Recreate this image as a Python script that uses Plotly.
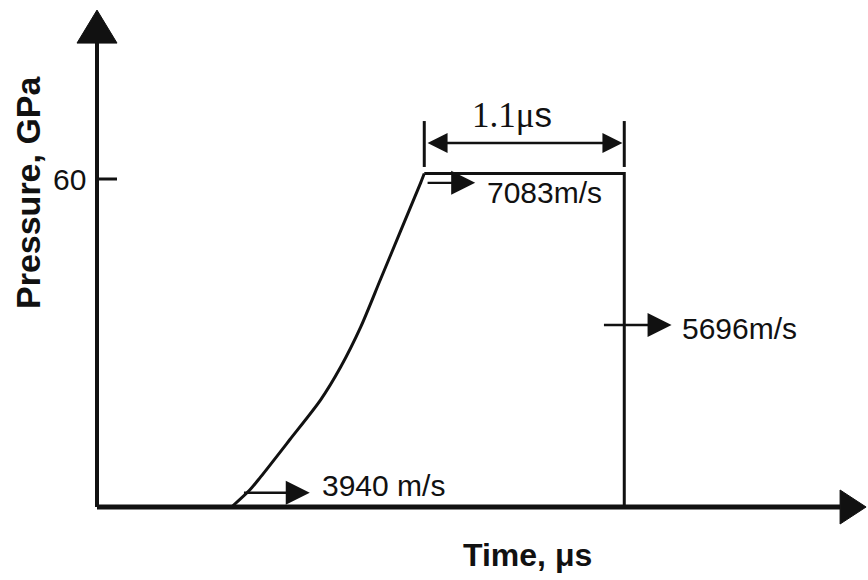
import plotly.graph_objects as go

# Pressure pulse: time (μs) vs pressure (GPa)
time_us = [0.74, 0.84, 0.90, 1.06, 1.23, 1.34, 1.45, 1.56, 1.67, 1.78, 1.80, 2.90, 2.90]
pressure_gpa = [0.0, 3.1, 5.5, 12.3, 19.6, 25.6, 32.9, 41.7, 50.5, 59.3, 61.0, 61.0, 0.0]
RISE_END = 11  # points in the ramp (up to the start of the plateau)

y_ticks = [60]
plateau_start, plateau_end = 1.80, 2.90
plateau_value = "1.1"
plateau_unit = "μs"

# wave speed labels with their arrows (tail t, head t, pressure level)
speed_labels = ["3940 m/s", "7083m/s", "5696m/s"]
speed_arrow_t0 = [0.80, 1.81, 2.78]
speed_arrow_t1 = [1.17, 2.08, 3.16]
speed_arrow_p = [2.6, 59.3, 33.3]
speed_label_t = [1.227, 2.134, 3.207]
speed_label_p = [4.0, 57.6, 32.7]

INK = "#111111"
SANS = "Liberation Sans, Arial, sans-serif"
SERIF = "Liberation Serif, Times New Roman, serif"

# scale of the drawing
PX_PER_US = 200 / 1.1
PX_PER_GPA = 328 / 60
W, H = 868, 580
ORIGIN_X, ORIGIN_Y = 97, 507
X_RANGE = [-ORIGIN_X / PX_PER_US, (W - ORIGIN_X) / PX_PER_US]
Y_RANGE = [-(H - ORIGIN_Y) / PX_PER_GPA, ORIGIN_Y / PX_PER_GPA]

T_AXIS_END = 4.23
P_AXIS_END = 90.9
HEAD_T = 26 / PX_PER_US
HEAD_P = 33 / PX_PER_GPA

fig = go.Figure()

# smooth ramp
fig.add_trace(go.Scatter(
    x=time_us[:RISE_END], y=pressure_gpa[:RISE_END], mode="lines",
    line=dict(color=INK, width=3, shape="spline", smoothing=0.8),
    hoverinfo="skip", showlegend=False,
))
# flat top and release
fig.add_trace(go.Scatter(
    x=time_us[RISE_END - 1:], y=pressure_gpa[RISE_END - 1:], mode="lines",
    line=dict(color=INK, width=3), hoverinfo="skip", showlegend=False,
))

shapes = []
# time axis with arrowhead
shapes.append(dict(type="line", xref="x", yref="y", x0=0, y0=0, x1=T_AXIS_END - HEAD_T, y1=0,
                   line=dict(color=INK, width=5)))
hw = 17 / PX_PER_GPA
shapes.append(dict(type="path", xref="x", yref="y",
                   path=f"M {T_AXIS_END - HEAD_T},{hw} L {T_AXIS_END},0 L {T_AXIS_END - HEAD_T},{-hw} Z",
                   fillcolor=INK, line=dict(color=INK, width=1)))
# pressure axis with arrowhead
shapes.append(dict(type="line", xref="x", yref="y", x0=0, y0=0, x1=0, y1=P_AXIS_END - HEAD_P,
                   line=dict(color=INK, width=4)))
hx = 20 / PX_PER_US
shapes.append(dict(type="path", xref="x", yref="y",
                   path=f"M {-hx},{P_AXIS_END - HEAD_P} L 0,{P_AXIS_END} L {hx},{P_AXIS_END - HEAD_P} Z",
                   fillcolor=INK, line=dict(color=INK, width=1)))
# tick marks
for v in y_ticks:
    shapes.append(dict(type="line", xref="x", yref="y", x0=0, y0=v, x1=0.11, y1=v,
                       line=dict(color=INK, width=3)))
# plateau width dimension lines
for t in (plateau_start, plateau_end):
    shapes.append(dict(type="line", xref="x", yref="y", x0=t, y0=62.2, x1=t, y1=70.6,
                       line=dict(color=INK, width=3)))

annotations = []
# plateau dimension double arrow
annotations.append(dict(
    x=plateau_end - 0.01, y=66.6, ax=plateau_start + 0.01, ay=66.6,
    xref="x", yref="y", axref="x", ayref="y", text="", showarrow=True,
    arrowhead=2, startarrowhead=2, arrowside="end+start", arrowsize=1.6, startarrowsize=1.6,
    arrowwidth=2.5, arrowcolor=INK,
))
annotations.append(dict(
    x=(plateau_start + plateau_end) / 2 - 0.07, y=67.6, xref="x", yref="y",
    text=f"<span style='font-family:{SERIF}'>{plateau_value}{plateau_unit[0]}</span>{plateau_unit[1:]}",
    showarrow=False, xanchor="center", yanchor="bottom",
    font=dict(family=SANS, size=35, color=INK),
))

# wave speed arrows and labels
for t0, t1, p in zip(speed_arrow_t0, speed_arrow_t1, speed_arrow_p):
    annotations.append(dict(
        x=t1, y=p, ax=t0, ay=p, xref="x", yref="y", axref="x", ayref="y",
        text="", showarrow=True, arrowhead=2, arrowsize=2.0, arrowwidth=2.4, arrowcolor=INK,
    ))
for lab, tx, py in zip(speed_labels, speed_label_t, speed_label_p):
    annotations.append(dict(
        x=tx, y=py, xref="x", yref="y", text=lab, showarrow=False,
        xanchor="left", yanchor="middle", font=dict(family=SANS, size=30, color=INK),
    ))

# tick labels
for v in y_ticks:
    annotations.append(dict(
        x=-0.05, y=v, xref="x", yref="y", text=str(v), showarrow=False,
        xanchor="right", yanchor="middle", font=dict(family=SANS, size=30, color=INK),
    ))

# axis titles
annotations.append(dict(
    x=2.365, y=-8.8, xref="x", yref="y", text="<b>Time, μs</b>", showarrow=False,
    xanchor="center", yanchor="middle", font=dict(family=SANS, size=32, color=INK),
))
annotations.append(dict(
    x=-0.38, y=57.6, xref="x", yref="y", text="<b>Pressure, GPa</b>", showarrow=False,
    textangle=-90, xanchor="center", yanchor="middle", font=dict(family=SANS, size=34, color=INK),
))

fig.update_layout(
    width=W, height=H,
    margin=dict(l=0, r=0, t=0, b=0),
    paper_bgcolor="white", plot_bgcolor="white",
    xaxis=dict(range=X_RANGE, visible=False, fixedrange=True),
    yaxis=dict(range=Y_RANGE, visible=False, fixedrange=True),
    shapes=shapes, annotations=annotations,
    showlegend=False,
)

fig.write_html("out.html")
